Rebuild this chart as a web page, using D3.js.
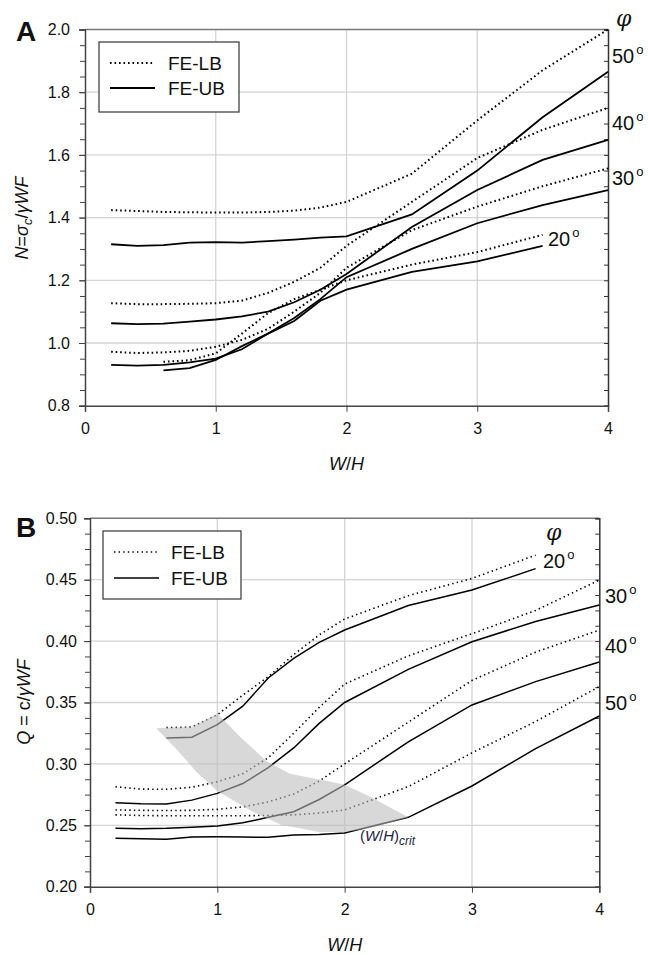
<!DOCTYPE html>
<html><head><meta charset="utf-8">
<script src="https://cdn.jsdelivr.net/npm/d3@7"></script>
<style>
body{margin:0;background:#fff;}
svg{display:block;font-family:Arial,"Liberation Sans",sans-serif;}
</style></head>
<body>
<svg id="c" width="648" height="955"></svg>
<script>
// ---------- DATA ----------
const xTicks = [0,1,2,3,4];
const aYTicks = [0.8,1.0,1.2,1.4,1.6,1.8,2.0];
const bYTicks = [0.20,0.25,0.30,0.35,0.40,0.45,0.50];
const legendNames = ["FE-LB","FE-UB"];
const phiNames = ["20°","30°","40°","50°"];

// Panel A: N = σc/γWF
const aX = [0.2,0.4,0.6,0.8,1.0,1.2,1.4,1.6,1.8,2.0,2.5,3.0,3.5,4.0];
const aX20 = [0.6,0.8,1.0,1.2,1.4,1.6,1.8,2.0,2.5,3.0,3.5];
const aLB50 = [1.424,1.421,1.418,1.417,1.416,1.416,1.418,1.422,1.432,1.45,1.54,1.71,1.87,2.0];
const aUB50 = [1.315,1.31,1.312,1.32,1.322,1.32,1.325,1.33,1.336,1.34,1.41,1.55,1.72,1.865];
const aLB40 = [1.127,1.124,1.124,1.125,1.127,1.135,1.16,1.195,1.24,1.31,1.45,1.59,1.68,1.75];
const aUB40 = [1.063,1.06,1.062,1.068,1.075,1.085,1.10,1.13,1.17,1.22,1.37,1.488,1.584,1.648];
const aLB30 = [0.972,0.968,0.97,0.975,0.988,1.01,1.045,1.10,1.16,1.24,1.36,1.435,1.50,1.557];
const aUB30 = [0.93,0.928,0.93,0.938,0.95,0.98,1.03,1.08,1.14,1.21,1.30,1.382,1.44,1.488];
const aLB20 = [0.94,0.945,0.967,1.03,1.095,1.14,1.17,1.20,1.25,1.29,1.345];
const aUB20 = [0.913,0.92,0.946,0.99,1.03,1.07,1.135,1.17,1.227,1.26,1.31];

// Panel B: Q = c/γWF
const bX = [0.2,0.4,0.6,0.8,1.0,1.2,1.4,1.6,1.8,2.0,2.5,3.0,3.5,4.0];
const bX20 = [0.6,0.8,1.0,1.2,1.4,1.6,1.8,2.0,2.5,3.0,3.5];
const bLB20 = [0.3295,0.330,0.340,0.356,0.371,0.389,0.405,0.418,0.437,0.451,0.470];
const bUB20 = [0.321,0.3217,0.332,0.347,0.370,0.386,0.399,0.409,0.429,0.4416,0.459];
const bLB30 = [0.2814,0.2795,0.2793,0.281,0.2855,0.292,0.305,0.325,0.346,0.365,0.388,0.406,0.425,0.4497];
const bUB30 = [0.2684,0.2675,0.2673,0.2705,0.276,0.284,0.297,0.313,0.333,0.35,0.377,0.3995,0.416,0.4294];
const bLB40 = [0.2625,0.2622,0.262,0.2622,0.263,0.265,0.269,0.2755,0.286,0.30,0.334,0.368,0.391,0.409];
const bUB40 = [0.2475,0.2472,0.2475,0.2485,0.2494,0.252,0.2565,0.261,0.271,0.283,0.318,0.348,0.367,0.383];
const bLB50 = [0.2585,0.258,0.2578,0.2578,0.2578,0.2578,0.258,0.2585,0.26,0.2625,0.2815,0.309,0.3345,0.363];
const bUB50 = [0.2394,0.239,0.2386,0.2405,0.2407,0.2405,0.2402,0.242,0.2425,0.2437,0.2565,0.282,0.3125,0.339];
// (W/H)crit shaded zone outline
const critX = [0.52,0.6,0.8,1.0,1.18,1.39,1.57,1.89,2.0,2.2,2.5,2.2,2.0,1.8,1.5,1.26,1.0,0.84,0.68,0.52];
const critQ = [0.329,0.3295,0.330,0.341,0.322,0.302,0.292,0.2855,0.283,0.2733,0.2565,0.2475,0.2445,0.2445,0.2505,0.262,0.278,0.293,0.312,0.329];

// ---------- DRAW ----------
const svg = d3.select("#c");
const zip = (xs, ys) => xs.map((x,i)=>[x, ys[i]]);

function panel(o){
  const g = svg.append("g");
  const x = d3.scaleLinear([0,4],[o.x0,o.x1]);
  const y = d3.scaleLinear(o.ydom,[o.y0,o.y1]);
  // grid
  g.append("g").selectAll("line").data([1,2,3]).join("line")
    .attr("x1",d=>x(d)).attr("x2",d=>x(d)).attr("y1",o.y0).attr("y2",o.y1)
    .attr("stroke","#d4d4d4").attr("stroke-width",1.3);
  g.append("g").selectAll("line").data(o.yTicks.slice(1,-1)).join("line")
    .attr("x1",o.x0).attr("x2",o.x1).attr("y1",d=>y(d)).attr("y2",d=>y(d))
    .attr("stroke","#d4d4d4").attr("stroke-width",1.3);
  // frame top
  g.append("line").attr("x1",o.x0).attr("x2",o.x1).attr("y1",o.y1).attr("y2",o.y1)
    .attr("stroke","#777").attr("stroke-width",1.5);
  // minor ticks
  const minor = d3.range(o.ydom[0], o.ydom[1]+1e-9, o.minorStep);
  const lm = d3.axisLeft(y).tickValues(minor).tickSize(5).tickFormat("");
  g.append("g").attr("transform",`translate(${o.x0},0)`).call(lm)
    .call(s=>{s.select(".domain").remove(); s.selectAll("line").attr("stroke","#444");});
  const rm = d3.axisLeft(y).tickValues(minor).tickSize(4).tickFormat("");
  g.append("g").attr("transform",`translate(${o.x1},0)`).call(rm)
    .call(s=>{s.select(".domain").attr("stroke","#333").attr("stroke-width",1.5); s.selectAll("line").attr("stroke","#333");});
  // left axis
  const la = d3.axisLeft(y).tickValues(o.yTicks).tickSize(6).tickPadding(o.lpad).tickFormat(d3.format(o.fmt));
  g.append("g").attr("transform",`translate(${o.x0},0)`).call(la)
    .call(s=>{s.select(".domain").attr("stroke","#444").attr("stroke-width",1.5);
      s.selectAll("line").attr("stroke","#444");
      s.selectAll("text").attr("font-size",16).attr("fill","#111").attr("font-family","Arial, 'Liberation Sans', sans-serif");});
  // bottom axis
  const ba = d3.axisBottom(x).tickValues(xTicks).tickSize(6).tickPadding(11).tickFormat(d3.format("d"));
  g.append("g").attr("transform",`translate(0,${o.y0})`).call(ba)
    .call(s=>{s.select(".domain").attr("stroke","#444").attr("stroke-width",1.5);
      s.selectAll("line").attr("stroke","#444");
      s.selectAll("text").attr("font-size",16).attr("fill","#111").attr("font-family","Arial, 'Liberation Sans', sans-serif");});
  // series
  const line = d3.line().x(d=>x(d[0])).y(d=>y(d[1]));
  o.series.forEach(s=>{
    g.append("path").attr("d",line(s.pts)).attr("fill","none")
      .attr("stroke","#000").attr("stroke-width",s.lb?o.lbw:o.ubw)
      .attr("stroke-dasharray",s.lb?o.dash:null);
  });
  if(o.crit){
    g.append("path").attr("d",line(o.crit)+"Z").attr("fill","#bcbcbc").attr("fill-opacity",0.58).attr("stroke","none");
  }
  // legend
  const L = o.legend;
  g.append("rect").attr("x",L.x).attr("y",L.y).attr("width",L.w).attr("height",L.h)
    .attr("fill","#fff").attr("stroke","#444").attr("stroke-width",1.3);
  legendNames.forEach((n,i)=>{
    const ly = L.y + L.r0 + i*L.dr;
    g.append("line").attr("x1",L.x+11).attr("x2",L.x+56).attr("y1",ly).attr("y2",ly)
      .attr("stroke","#000").attr("stroke-width",i? o.ubw : o.lbw).attr("stroke-dasharray",i?null:o.dash);
    g.append("text").attr("x",L.x+L.tx).attr("y",ly+7).text(n).attr("font-size",19).attr("fill","#111");
  });
  // panel letter
  g.append("text").attr("x",o.letterX).attr("y",o.letterY).text(o.letter)
    .attr("font-size",28).attr("font-weight","bold").attr("fill","#111");
  // axis titles
  const xt = g.append("text").attr("x",x(2)).attr("y",o.y0+64).attr("text-anchor","middle")
    .attr("font-size",18).attr("font-style","italic").attr("fill","#111");
  xt.append("tspan").text("W");
  xt.append("tspan").text("/").attr("font-style","normal");
  xt.append("tspan").text("H");
  o.ytitle(g);
  // phi labels
  o.phi.forEach(p=>{
    const t = g.append("text").attr("x",p.x).attr("y",p.y).attr("font-size",20).attr("fill","#111");
    t.append("tspan").text(p.t.replace("°",""));
    t.append("tspan").text("o").attr("font-size",13).attr("dy",-9).attr("dx",2);
  });
  g.append("text").attr("x",o.phiSym.x).attr("y",o.phiSym.y).text("φ")
    .attr("font-size",22).attr("font-style","italic").attr("font-family","'DejaVu Serif', serif").attr("fill","#111");
  return {g,x,y};
}

panel({
  x0:85, x1:608, y0:405.7, y1:29.5, ydom:[0.8,2.0], yTicks:aYTicks, minorStep:0.05,
  fmt:".1f", lpad:9, lbw:2.0, ubw:1.8, dash:"1.6,2.9",
  series:[
    {pts:zip(aX,aLB50),lb:1},{pts:zip(aX,aUB50)},
    {pts:zip(aX,aLB40),lb:1},{pts:zip(aX,aUB40)},
    {pts:zip(aX,aLB30),lb:1},{pts:zip(aX,aUB30)},
    {pts:zip(aX20,aLB20),lb:1},{pts:zip(aX20,aUB20)}
  ],
  legend:{x:99,y:42,w:140,h:70,r0:21,dr:25,tx:69},
  letter:"A", letterX:16, letterY:41,
  ytitle:(g)=>{
    const t = g.append("text").attr("transform","translate(28,218) rotate(-90)")
      .attr("text-anchor","middle").attr("font-size",18).attr("font-style","italic").attr("fill","#111");
    t.append("tspan").text("N");
    t.append("tspan").text("=").attr("font-style","normal");
    t.append("tspan").text("σ");
    t.append("tspan").text("c").attr("font-size",13).attr("dy",4);
    t.append("tspan").text("/").attr("font-style","normal").attr("dy",-4);
    t.append("tspan").text("γWF");
  },
  phi:[{t:phiNames[3],x:612,y:63},{t:phiNames[2],x:612,y:130},{t:phiNames[1],x:612,y:185},{t:phiNames[0],x:548,y:246}],
  phiSym:{x:616,y:26}
});

const B = panel({
  x0:90, x1:599.3, y0:886.7, y1:518.3, ydom:[0.2,0.5], yTicks:bYTicks, minorStep:0.0125,
  fmt:".2f", lpad:7, lbw:1.6, ubw:1.5, dash:"1.4,3.2",
  series:[
    {pts:zip(bX20,bLB20),lb:1},{pts:zip(bX20,bUB20)},
    {pts:zip(bX,bLB30),lb:1},{pts:zip(bX,bUB30)},
    {pts:zip(bX,bLB40),lb:1},{pts:zip(bX,bUB40)},
    {pts:zip(bX,bLB50),lb:1},{pts:zip(bX,bUB50)}
  ],
  crit: zip(critX,critQ),
  legend:{x:103,y:531,w:138,h:68,r0:21,dr:26,tx:68},
  letter:"B", letterX:16, letterY:537,
  ytitle:(g)=>{
    const t = g.append("text").attr("transform","translate(30,702) rotate(-90)")
      .attr("text-anchor","middle").attr("font-size",18).attr("fill","#111");
    t.append("tspan").text("Q").attr("font-style","italic");
    t.append("tspan").text(" = c/");
    t.append("tspan").text("γWF").attr("font-style","italic");
  },
  phi:[{t:phiNames[0],x:543,y:568},{t:phiNames[1],x:605,y:603},{t:phiNames[2],x:605,y:653},{t:phiNames[3],x:605,y:710}],
  phiSym:{x:546,y:540}
});
// (W/H)crit label
const ct = B.g.append("text").attr("x",B.x(2.12)).attr("y",B.y(0.2375)).attr("font-size",15).attr("fill","#1c2440");
ct.append("tspan").text("(");
ct.append("tspan").text("W").attr("font-style","italic");
ct.append("tspan").text("/");
ct.append("tspan").text("H").attr("font-style","italic");
ct.append("tspan").text(")");
ct.append("tspan").text("crit").attr("font-style","italic").attr("font-size",12).attr("dy",4);
</script>
</body></html>
